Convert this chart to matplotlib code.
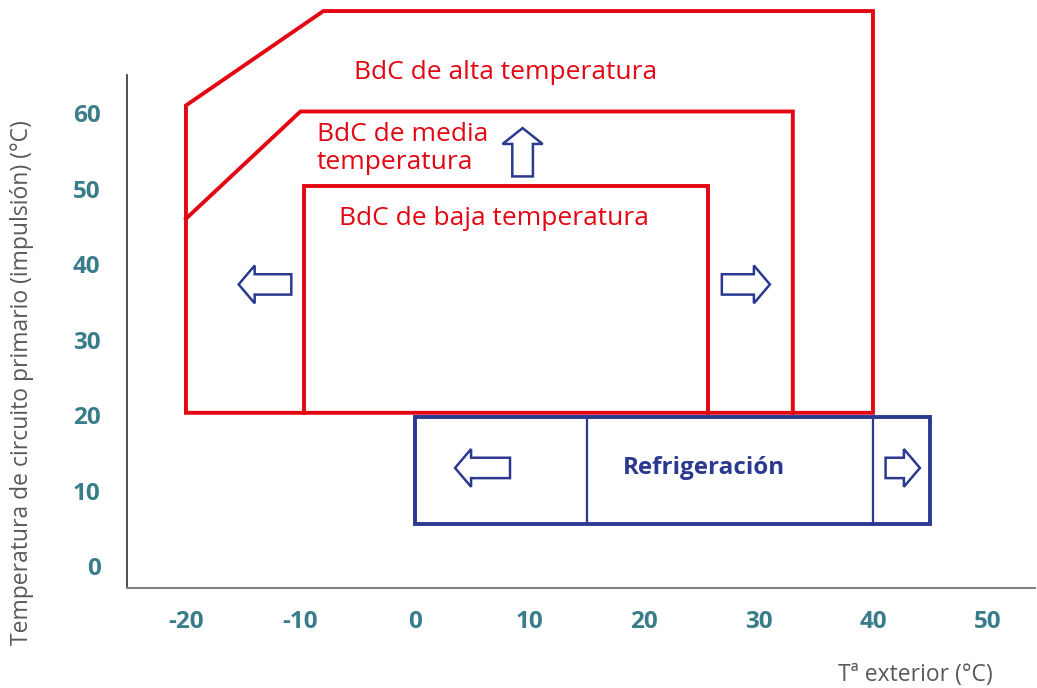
import matplotlib
matplotlib.use("Agg")
import matplotlib.pyplot as plt
from matplotlib.patches import Polygon, FancyArrow

plt.rcParams["font.family"] = ["Open Sans", "DejaVu Sans"]

RED = "#e30613"
BLUE = "#2b3990"
TEAL = "#3a7d8a"
GRAY = "#595959"

# ── data ───────────────────────────────────────────────────────────────────
x_ticks = [-20, -10, 0, 10, 20, 30, 40, 50]
x_labels = ["-20", "-10", "0", "10", "20", "30", "40", "50"]
y_ticks = [0, 10, 20, 30, 40, 50, 60]
y_labels = ["0", "10", "20", "30", "40", "50", "60"]

# operating envelopes (T exterior, T impulsión)
alta_x = [-20, -20, -8, 40, 40]
alta_y = [20.3, 61.0, 73.5, 73.5, 20.3]
media_x = [-20, -10, 33, 33]
media_y = [46, 60.2, 60.2, 20.3]
baja_x = [-9.7, -9.7, 25.6, 25.6]
baja_y = [20.3, 50.3, 50.3, 20.3]
refri_x = [0, 0, 45, 45]
refri_y = [5.6, 19.8, 19.8, 5.6]
refri_dividers = [15, 40]

# arrows: (x start, y start, dx, dy)
arrows_h = [(-10.8, 37.3, -4.6, 0), (26.8, 37.3, 4.2, 0),
            (8.3, 13.0, -4.8, 0), (41.1, 13.0, 3.0, 0)]
arrow_up = (9.4, 51.6, 0, 6.4)

labels_red = [("BdC de alta temperatura", -5.3, 65.4),
              ("BdC de media\ntemperatura", -8.6, 55.3),
              ("BdC de baja temperatura", -6.6, 46.0)]
label_refri = ("Refrigeración", 25.2, 13.0)

# ── figure ─────────────────────────────────────────────────────────────────
fig = plt.figure(figsize=(10.37, 6.88), dpi=100)
ax = fig.add_axes([127 / 1037, 100 / 688, 908 / 1037, 583 / 688])
ax.set_xlim(-25.15, 54.15)
ax.set_ylim(-2.9, 74.3)

ax.add_patch(Polygon(list(zip(alta_x, alta_y)), closed=True, fill=False,
                     edgecolor=RED, linewidth=2.8, clip_on=False, joinstyle="miter"))
ax.plot(media_x, media_y, color=RED, linewidth=2.8, solid_joinstyle="miter")
ax.plot(baja_x, baja_y, color=RED, linewidth=2.8, solid_joinstyle="miter")

ax.add_patch(Polygon(list(zip(refri_x, refri_y)), closed=True, fill=False,
                     edgecolor=BLUE, linewidth=2.8, joinstyle="miter"))
for xd in refri_dividers:
    ax.plot([xd, xd], [refri_y[0], refri_y[1]], color=BLUE, linewidth=1.6)

for x0, y0, dx, dy in arrows_h:
    ax.add_patch(FancyArrow(x0, y0, dx, dy, width=2.7, head_width=5.0,
                            head_length=1.4, length_includes_head=True,
                            fill=False, edgecolor=BLUE, linewidth=1.8))
x0, y0, dx, dy = arrow_up
ax.add_patch(FancyArrow(x0, y0, dx, dy, width=1.8, head_width=3.5,
                        head_length=2.1, length_includes_head=True,
                        fill=False, edgecolor=BLUE, linewidth=1.8))

for txt, tx, ty in labels_red:
    ax.text(tx, ty, txt, color=RED, fontsize=19, ha="left", va="center",
            linespacing=1.15)
ax.text(label_refri[1], label_refri[2], label_refri[0], color=BLUE,
        fontsize=17.5, fontweight="bold", ha="center", va="center")

# axes styling
ax.set_xticks(x_ticks)
ax.set_xticklabels(x_labels)
ax.set_yticks(y_ticks)
ax.set_yticklabels(y_labels)
ax.tick_params(length=0, colors=TEAL, labelsize=17.5)
ax.tick_params(axis="x", pad=16)
ax.tick_params(axis="y", pad=19)
for lab in ax.get_xticklabels() + ax.get_yticklabels():
    lab.set_fontweight("bold")

for side in ["top", "right"]:
    ax.spines[side].set_visible(False)
ax.spines["left"].set_color("#404040")
ax.spines["left"].set_linewidth(1.3)
ax.spines["left"].set_bounds(-2.9, 65)
ax.spines["bottom"].set_color("#808080")
ax.spines["bottom"].set_linewidth(1.5)

fig.text(22 / 1037, 1 - 383 / 688,
         "Temperatura de circuito primario (impulsión) (°C)",
         rotation=90, ha="center", va="center", color=GRAY, fontsize=16.5)
fig.text(915 / 1037, 1 - 675 / 688, "Tª exterior (°C)", ha="center",
         va="center", color=GRAY, fontsize=16.5)

fig.savefig("out.png", dpi=100)
plt.close(fig)
